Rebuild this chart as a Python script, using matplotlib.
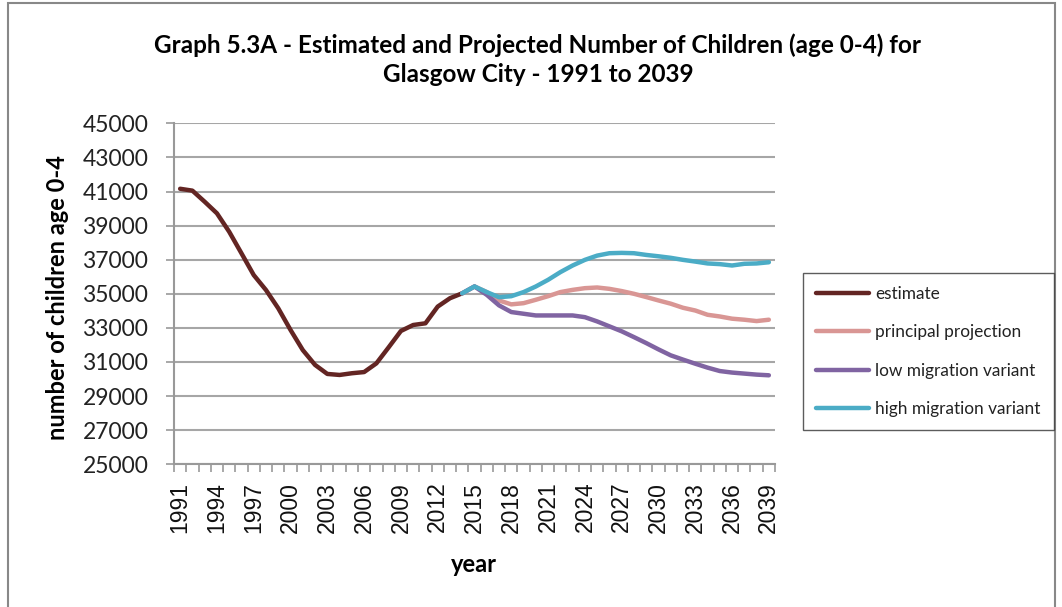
import matplotlib
matplotlib.use("Agg")
import matplotlib.pyplot as plt
from matplotlib.patches import Rectangle
from matplotlib.ticker import FixedLocator, NullFormatter

plt.rcParams['font.family'] = ['Lato', 'DejaVu Sans']

est_years = list(range(1991, 2015))
estimate = [41160, 41050, 40400, 39720, 38640, 37375, 36100, 35220, 34150, 32880,
            31700, 30830, 30300, 30240, 30340, 30410, 30920, 31860, 32820, 33170,
            33270, 34250, 34740, 35030]

proj_years = list(range(2014, 2040))
principal = [35030, 35430, 35100, 34610, 34380, 34450, 34650, 34860, 35100, 35230,
             35330, 35370, 35290, 35160, 35000, 34810, 34610, 34420, 34180, 34020,
             33770, 33670, 33540, 33480, 33400, 33480]
low_mig = [35030, 35430, 34940, 34320, 33930, 33830, 33730, 33730, 33730, 33730,
           33630, 33380, 33090, 32800, 32460, 32110, 31740, 31390, 31140, 30900,
           30670, 30470, 30380, 30320, 30260, 30220]
high_mig = [35030, 35430, 35100, 34800, 34860, 35100, 35430, 35820, 36270, 36660,
            36990, 37240, 37380, 37400, 37380, 37280, 37200, 37110, 36990, 36890,
            36780, 36740, 36660, 36760, 36780, 36850]

series_names = ["estimate", "principal projection", "low migration variant", "high migration variant"]
colors = ["#632523", "#D99694", "#8064A2", "#4BACC6"]

yticks = list(range(25000, 45001, 2000))
xtick_years = list(range(1991, 2040, 3))

W, H = 1062, 607
fig = plt.figure(figsize=(W / 100, H / 100), dpi=100)
fig.patches.append(Rectangle((8 / W, -0.02), (1055 - 8) / W, 1.02 - 3 / H,
                             transform=fig.transFigure, fill=False,
                             edgecolor="#888888", linewidth=1.5))

ax = fig.add_axes([174 / W, 1 - 464.3 / H, (775 - 174) / W, (464.3 - 123.3) / H])

lines = []
for yrs, vals, c, z in [(est_years, estimate, colors[0], 3),
                        (proj_years, principal, colors[1], 3),
                        (proj_years, low_mig, colors[2], 3),
                        (proj_years, high_mig, colors[3], 4)]:
    l, = ax.plot(yrs, vals, color=c, lw=3.2, solid_capstyle='round',
                 solid_joinstyle='round', zorder=z)
    lines.append(l)

ax.set_xlim(1990.5, 2039.5)
ax.set_ylim(25000, 45000)
ax.set_yticks(yticks)
ax.set_yticklabels([str(v) for v in yticks], fontsize=16.5, color="#222222")
ax.yaxis.grid(True, color="#a6a6a6", linewidth=1.5)
ax.set_axisbelow(True)

ax.set_xticks(xtick_years)
ax.set_xticklabels([str(y) for y in xtick_years], rotation=90, fontsize=16.5,
                   family=['Liberation Sans', 'DejaVu Sans'], color="#111111")
ax.xaxis.set_minor_locator(FixedLocator([y + 0.5 for y in range(1990, 2040)]))
ax.xaxis.set_minor_formatter(NullFormatter())
ax.tick_params(axis='x', which='major', length=0, pad=12.5)
ax.tick_params(axis='x', which='minor', length=6, color="#999999", width=1.2)
ax.tick_params(axis='y', length=6, color="#999999", width=1.2, pad=12.5)

for s in ["top", "right"]:
    ax.spines[s].set_visible(False)
for s in ["left", "bottom"]:
    ax.spines[s].set_color("#999999")
    ax.spines[s].set_linewidth(1.5)

fig.text(58 / W, 1 - 298 / H, "number of children age 0-4", rotation=90,
         ha='center', va='center', fontsize=17, fontweight='bold')
fig.text(474 / W, 1 - 564 / H, "year", ha='center', va='center',
         fontsize=17, fontweight='bold')

fig.text(538 / W, 1 - 45 / H, "Graph 5.3A - Estimated and Projected Number of Children (age 0-4) for",
         ha='center', va='center', fontsize=17.5, fontweight='bold')
fig.text(538 / W, 1 - 74.5 / H, "Glasgow City - 1991 to 2039",
         ha='center', va='center', fontsize=17.5, fontweight='bold')

leg = fig.legend(lines, series_names, loc='upper left',
                 bbox_to_anchor=(803 / W, 1 - 273 / H), borderaxespad=0,
                 fontsize=12.4, frameon=True, fancybox=False, edgecolor="#333333",
                 handlelength=3.1, labelspacing=1.3, borderpad=0.75, handletextpad=0.35)
leg.get_frame().set_linewidth(1.0)
for t in leg.get_texts():
    t.set_color("#222222")

fig.savefig("out.png", dpi=100)
